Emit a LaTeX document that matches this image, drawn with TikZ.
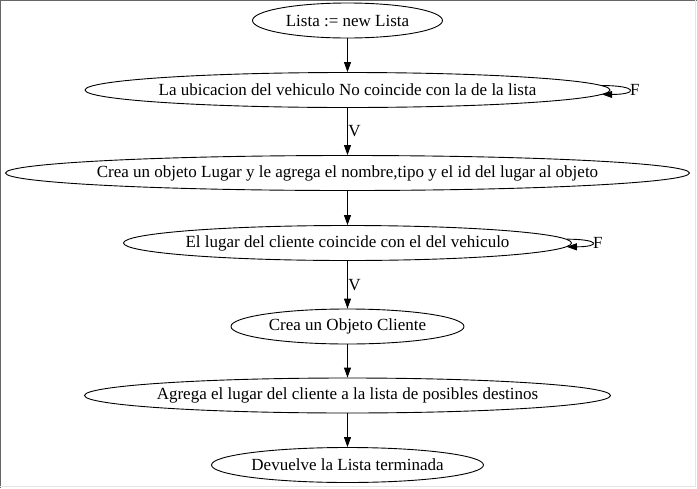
\documentclass[tikz,border=0pt]{standalone}
\usepackage{fontspec}
\setmainfont{Liberation Serif}
\usetikzlibrary{shapes.geometric,arrows.meta}
\tikzset{
  st/.style={ellipse, draw=black, line width=0.9pt, inner sep=0pt, minimum height=35pt,
    font=\fontsize{17}{19}\selectfont},
  arr/.style={draw=black, line width=0.9pt, -{Triangle[length=10pt,width=7pt]}},
  lab/.style={inner sep=0.5pt, font=\fontsize{17}{19}\selectfont},
}
\begin{document}
\begin{tikzpicture}[x=1pt,y=-1pt]
\useasboundingbox (0,0) rectangle (697,488);
\fill[white] (0,0) rectangle (697,488);
\draw[color=black!60, line width=1.2pt] (0.6,488) -- (0.6,0.6) -- (697,0.6);
\draw[color=black!10, line width=1pt] (0,486) -- (695.5,486) -- (695.5,0);

\node[st, minimum width=190pt] (n1) at (347.5,20.5) {\makebox[0pt]{Lista := new Lista}};
\node[st, minimum width=525pt] (n2) at (347.5,90) {\makebox[0pt]{La ubicacion del vehiculo No coincide con la de la lista}};
\node[st, minimum width=684pt] (n3) at (347.5,173) {\makebox[0pt]{Crea un objeto Lugar y le agrega el nombre,tipo y el id del lugar al objeto}};
\node[st, minimum width=448pt] (n4) at (347.5,243) {\makebox[0pt]{El lugar del cliente coincide con el del vehiculo}};
\node[st, minimum width=233pt] (n5) at (347.5,326.5) {\makebox[0pt]{Crea un Objeto Cliente}};
\node[st, minimum width=526pt] (n6) at (347.5,395.5) {\makebox[0pt]{Agrega el lugar del cliente a la lista de posibles destinos}};
\node[st, minimum width=272pt] (n7) at (347.5,465) {\makebox[0pt]{Devuelve la Lista terminada}};

\draw[arr] (n1) -- (n2);
\draw[arr] (n2) -- node[lab, right] {V} (n3);
\draw[arr] (n3) -- (n4);
\draw[arr] (n4) -- node[lab, right] {V} (n5);
\draw[arr] (n5) -- (n6);
\draw[arr] (n6) -- (n7);

\draw[arr] (n2.1) .. controls +(36,0) and +(36,0) .. node[lab, right, pos=0.5] {F} (n2.-1);
\draw[arr] (n4.1) .. controls +(34,0) and +(34,0) .. node[lab, right, pos=0.5] {F} (n4.-1);
\end{tikzpicture}
\end{document}
